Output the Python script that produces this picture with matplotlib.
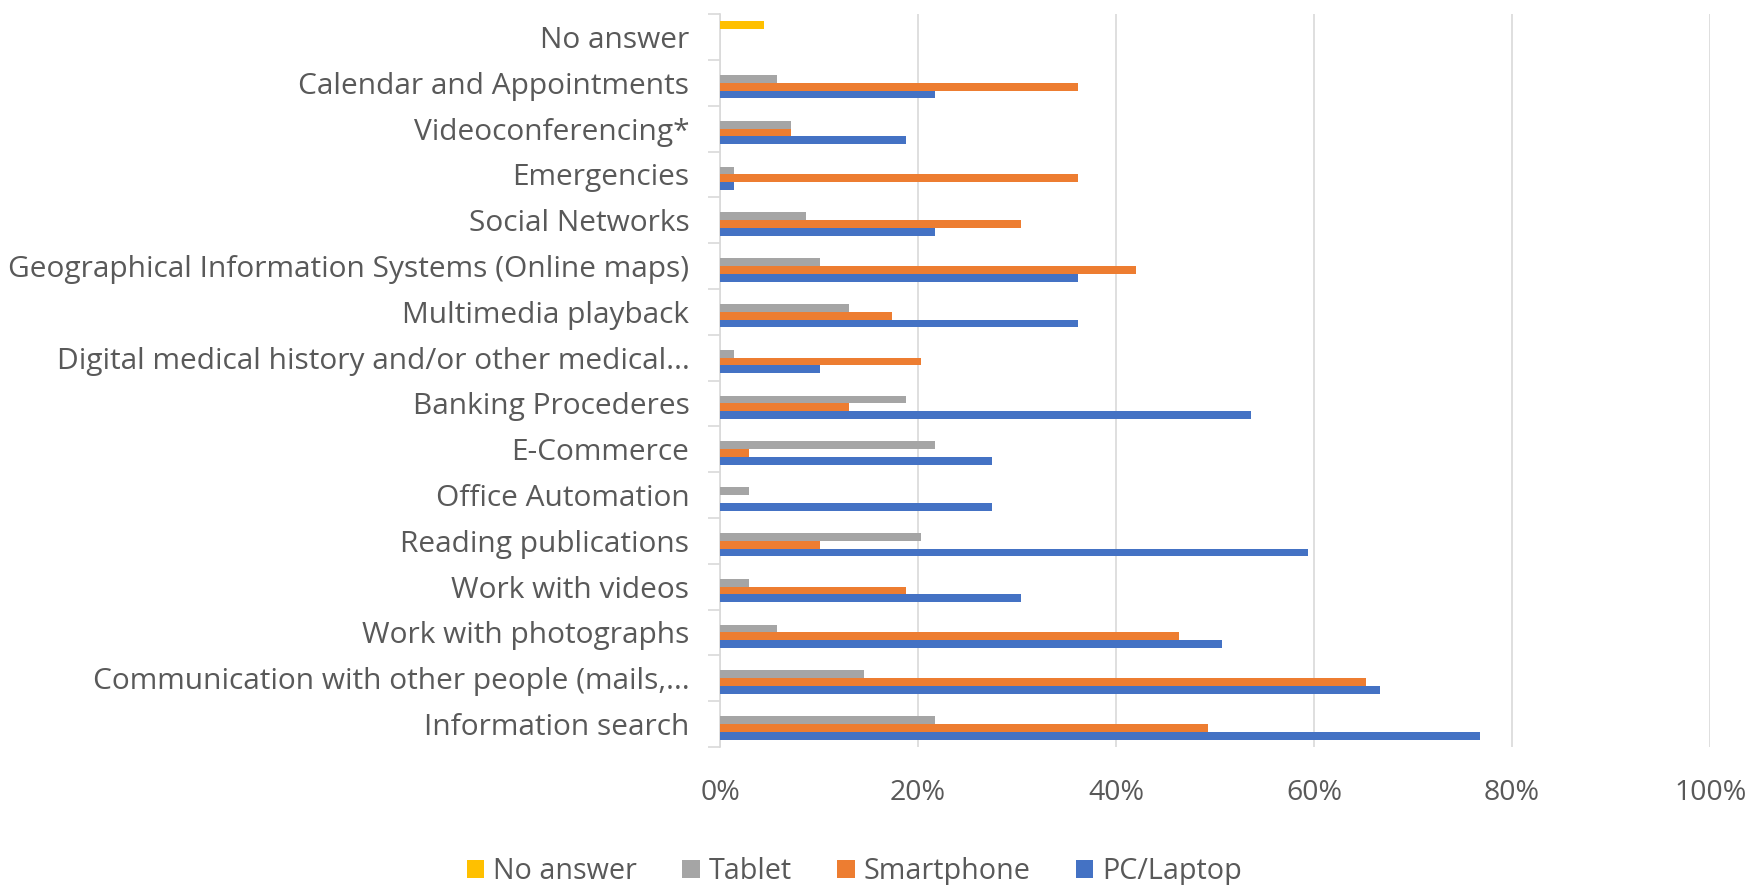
import matplotlib
matplotlib.use("Agg")
import matplotlib.pyplot as plt
from matplotlib.ticker import FixedLocator, PercentFormatter
import numpy as np

# categories listed top to bottom as in the chart
categories = [
    "No answer",
    "Calendar and Appointments",
    "Videoconferencing*",
    "Emergencies",
    "Social Networks",
    "Geographical Information Systems (Online maps)",
    "Multimedia playback",
    "Digital medical history and/or other medical...",
    "Banking Procederes",
    "E-Commerce",
    "Office Automation",
    "Reading publications",
    "Work with videos",
    "Work with photographs",
    "Communication with other people (mails,...",
    "Information search",
]

no_answer  = [4.4, 0, 0, 0, 0, 0, 0, 0, 0, 0, 0, 0, 0, 0, 0, 0]
tablet     = [0, 5.8, 7.2, 1.4, 8.7, 10.1, 13.0, 1.4, 18.8, 21.7, 2.9, 20.3, 2.9, 5.8, 14.5, 21.7]
smartphone = [0, 36.2, 7.2, 36.2, 30.4, 42.0, 17.4, 20.3, 13.0, 2.9, 0, 10.1, 18.8, 46.4, 65.2, 49.3]
pc_laptop  = [0, 21.7, 18.8, 1.4, 21.7, 36.2, 36.2, 10.1, 53.6, 27.5, 27.5, 59.4, 30.4, 50.7, 66.7, 76.8]

x_ticks = [0, 20, 40, 60, 80, 100]

series = [
    ("No answer", no_answer, "#FFC000"),
    ("Tablet", tablet, "#A5A5A5"),
    ("Smartphone", smartphone, "#ED7D31"),
    ("PC/Laptop", pc_laptop, "#4472C4"),
]

FONT = "Open Sans"
TXT = "#595959"

fig = plt.figure(figsize=(17.54, 8.85), dpi=100)
ax = fig.add_axes([0.4105, 0.156, 0.5645, 0.828])

n = len(categories)
y = np.arange(n)[::-1]  # top category highest
w = 0.17
offsets = {"No answer": 1.5 * w, "Tablet": 0.5 * w, "Smartphone": -0.5 * w, "PC/Laptop": -1.5 * w}

handles = []
for name, vals, col in series:
    h = ax.barh(y + offsets[name], vals, height=w, color=col, label=name, zorder=3)
    handles.append(h)

ax.set_xlim(0, 100)
ax.set_ylim(-0.5, n - 0.5)

ax.xaxis.set_major_locator(FixedLocator(x_ticks))
ax.xaxis.set_major_formatter(PercentFormatter(decimals=0))
ax.grid(axis="x", color="#D9D9D9", linewidth=1.2, zorder=0)
ax.tick_params(axis="x", length=0, pad=23, labelsize=20.5, labelcolor=TXT)

ax.set_yticks(y)
ax.set_yticklabels(categories)
ax.yaxis.set_minor_locator(FixedLocator(np.arange(-0.5, n, 1.0)))
ax.tick_params(axis="y", which="major", length=0, pad=22, labelsize=21.5, labelcolor=TXT)
ax.tick_params(axis="y", which="minor", length=9, width=1.2, color="#D9D9D9")

for s in ["top", "right", "bottom"]:
    ax.spines[s].set_visible(False)
ax.spines["left"].set_color("#D9D9D9")
ax.spines["left"].set_linewidth(1.2)

for lab in ax.get_xticklabels() + ax.get_yticklabels():
    lab.set_fontfamily(FONT)

leg = fig.legend(handles=handles, labels=[s[0] for s in series], loc="center",
                 bbox_to_anchor=(0.487, 0.015), ncol=4, frameon=False,
                 prop={"family": FONT, "size": 20.7}, handlelength=0.6, handleheight=0.6,
                 handletextpad=0.3, columnspacing=1.6)
for t in leg.get_texts():
    t.set_color(TXT)

fig.savefig("out.png", dpi=100)
